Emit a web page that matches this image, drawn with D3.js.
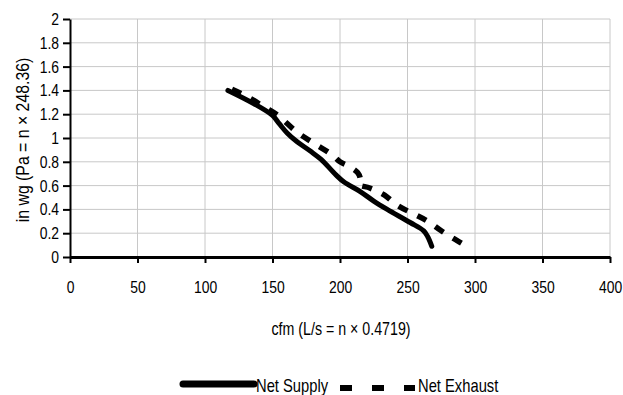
<!DOCTYPE html>
<html>
<head>
<meta charset="utf-8">
<script src="https://cdn.jsdelivr.net/npm/d3@7"></script>
<style>
  body { margin: 0; background: #fff; }
  text { font-family: "Liberation Sans", Arial, sans-serif; fill: #000; }
</style>
</head>
<body>
<svg id="chart" width="623" height="395"></svg>
<script>
// Net Supply curve (cfm, in wg)
const supplyCfm = [117, 136, 150, 155, 161, 168, 178, 186, 197, 203, 215, 225, 235, 252, 262, 265, 268];
const supplyWg  = [1.40, 1.29, 1.19, 1.12, 1.04, 0.97, 0.89, 0.82, 0.69, 0.63, 0.55, 0.47, 0.40, 0.29, 0.22, 0.17, 0.09];

// Net Exhaust curve
const exhaustCfm = [120, 131, 144, 154, 168, 180, 194, 200, 207, 213, 215, 214, 222, 233, 243, 255, 265, 275, 285, 294];
const exhaustWg  = [1.41, 1.35, 1.26, 1.19, 1.05, 0.96, 0.86, 0.80, 0.76, 0.71, 0.66, 0.61, 0.58, 0.52, 0.43, 0.36, 0.30, 0.22, 0.15, 0.09];

const xTicks = [0, 50, 100, 150, 200, 250, 300, 350, 400];
const yTicks = [0, 0.2, 0.4, 0.6, 0.8, 1, 1.2, 1.4, 1.6, 1.8, 2];

const seriesNames = ["Net Supply", "Net Exhaust"];

// dimensions
const marginTop = 19;
const marginRight = 13;
const marginBottom = 138;
const marginLeft = 70;
const width = 623 - marginLeft - marginRight;
const height = 395 - marginTop - marginBottom;

// squeeze text horizontally to mimic a narrow font (no narrow face installed)
const condense = (sel, s) => {
  sel.each(function () {
    const t = d3.select(this);
    const x = parseFloat(t.attr('x')) || 0;
    const tr = t.attr('transform') || '';
    t.attr('x', x / s).attr('transform', `${tr} scale(${s},1)`);
  });
};

const svg = d3.select('#chart');
const chart = svg.append('g')
  .attr('transform', `translate(${marginLeft}, ${marginTop})`);

const xScale = d3.scaleLinear().domain([0, 400]).range([0, width]);
const yScale = d3.scaleLinear().domain([0, 2]).range([height, 0]);

// grid
chart.append('g')
  .selectAll('line')
  .data(xTicks.slice(1))
  .enter().append('line')
  .attr('x1', d => xScale(d)).attr('x2', d => xScale(d))
  .attr('y1', 0).attr('y2', height)
  .attr('stroke', '#c8c8c8').attr('stroke-width', 1);

chart.append('g')
  .selectAll('line')
  .data(yTicks.slice(1))
  .enter().append('line')
  .attr('x1', 0).attr('x2', width)
  .attr('y1', d => yScale(d)).attr('y2', d => yScale(d))
  .attr('stroke', '#c8c8c8').attr('stroke-width', 1);

// axes
const xAxis = chart.append('g')
  .attr('transform', `translate(0, ${height})`)
  .call(d3.axisBottom(xScale).tickValues(xTicks).tickSize(6).tickPadding(18).tickSizeOuter(0));
const yAxis = chart.append('g')
  .call(d3.axisLeft(yScale).tickValues(yTicks).tickFormat(d3.format('')).tickSize(7).tickPadding(4).tickSizeOuter(0));

[xAxis, yAxis].forEach(ax => {
  ax.attr('font-family', null).attr('font-size', null);
  ax.selectAll('.tick line').attr('stroke', '#000').attr('stroke-width', 2);
  ax.selectAll('text').attr('font-size', 17).call(condense, 0.82);
});
xAxis.select('.domain').attr('stroke', '#000').attr('stroke-width', 3);
yAxis.select('.domain').attr('stroke', '#000').attr('stroke-width', 2);

// lines
const line = d3.line()
  .x(d => xScale(d[0]))
  .y(d => yScale(d[1]))
  .curve(d3.curveCatmullRom.alpha(0.5));

chart.append('path')
  .datum(d3.zip(supplyCfm, supplyWg))
  .attr('d', line)
  .attr('fill', 'none')
  .attr('stroke', '#000')
  .attr('stroke-width', 5)
  .attr('stroke-linecap', 'round');

chart.append('path')
  .datum(d3.zip(exhaustCfm, exhaustWg))
  .attr('d', line)
  .attr('fill', 'none')
  .attr('stroke', '#000')
  .attr('stroke-width', 5.5)
  .attr('stroke-dasharray', '10,11');

// axis titles
svg.append('text')
  .attr('x', 341)
  .attr('y', 335)
  .attr('text-anchor', 'middle')
  .attr('font-size', 18)
  .text('cfm (L/s = n × 0.4719)')
  .call(condense, 0.79);

svg.append('text')
  .attr('transform', `translate(29, 140) rotate(-90)`)
  .attr('text-anchor', 'middle')
  .attr('font-size', 18)
  .text('in wg (Pa = n × 248.36)')
  .call(condense, 0.88);

// legend
const legend = svg.append('g');
legend.append('line')
  .attr('x1', 183).attr('x2', 254).attr('y1', 384).attr('y2', 384)
  .attr('stroke', '#000').attr('stroke-width', 7).attr('stroke-linecap', 'round');
legend.append('text')
  .attr('x', 256).attr('y', 392).attr('font-size', 18)
  .text(seriesNames[0])
  .call(condense, 0.82);
legend.append('line')
  .attr('x1', 340).attr('x2', 415).attr('y1', 388).attr('y2', 388)
  .attr('stroke', '#000').attr('stroke-width', 6).attr('stroke-dasharray', '12,20');
legend.append('text')
  .attr('x', 418).attr('y', 392).attr('font-size', 18)
  .text(seriesNames[1])
  .call(condense, 0.82);
</script>
</body>
</html>
